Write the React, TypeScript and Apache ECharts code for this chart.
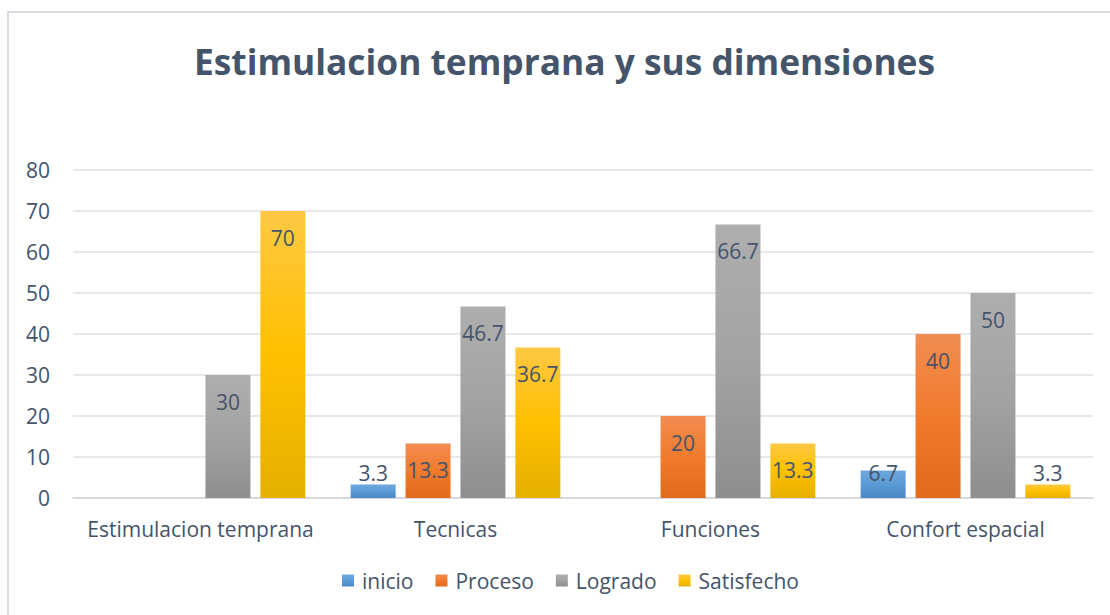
import React, { useEffect, useRef } from 'react';
import * as echarts from 'echarts';

const titleText = 'Estimulacion temprana y sus dimensiones';
const categories = ['Estimulacion temprana', 'Tecnicas', 'Funciones', 'Confort espacial'];
const seriesNames = ['inicio', 'Proceso', 'Logrado', 'Satisfecho'];
const inicio: (number | null)[] = [null, 3.3, null, 6.7];
const proceso: (number | null)[] = [null, 13.3, 20, 40];
const logrado: (number | null)[] = [30, 46.7, 66.7, 50];
const satisfecho: (number | null)[] = [70, 36.7, 13.3, 3.3];
const yMin = 0;
const yMax = 80;
const yStep = 10;

const gradients = [
  ['#6EA7DE', '#5B9BD5', '#4A87C6'],
  ['#F28C52', '#F07B2C', '#E26A1A'],
  ['#AEAEAE', '#A3A3A3', '#8E8E8E'],
  ['#FFC844', '#FFC000', '#E5B000'],
];

const FONT = "'Open Sans', sans-serif";
const TEXT = '#44546A';
const FS = 21;

export default function App() {
  const ref = useRef<HTMLDivElement>(null);
  useEffect(() => {
    if (!ref.current) return;
    const chart = echarts.init(ref.current, undefined, { renderer: 'svg' });
    const all = [inicio, proceso, logrado, satisfecho];
    const toItems = (vals: (number | null)[]) =>
      vals.map((v) =>
        v == null
          ? null
          : v < 13
          ? { value: v, label: { position: 'insideBottom', distance: 15 } }
          : v
      );
    const series = all.map((vals, i) => ({
      name: seriesNames[i],
      type: 'bar',
      barWidth: 45,
      barGap: '22%',
      data: toItems(vals),
      itemStyle: {
        color: new echarts.graphic.LinearGradient(0, 0, 0, 1, [
          { offset: 0, color: gradients[i][0] },
          { offset: 0.5, color: gradients[i][1] },
          { offset: 1, color: gradients[i][2] },
        ]),
      },
      label: {
        show: true,
        position: 'insideTop',
        distance: 16,
        color: TEXT,
        fontSize: FS,
        fontFamily: FONT,
      },
    }));
    chart.setOption({
      animation: false,
      color: gradients.map((g) => g[1]),
      graphic: [
        {
          type: 'rect',
          shape: { x: 8, y: 12, width: 1200, height: 700 },
          style: { fill: 'none', stroke: '#D9DEE4', lineWidth: 2 },
          silent: true,
        },
      ],
      title: {
        text: titleText,
        left: 189,
        top: 38,
        textAlign: 'left',
        textStyle: {
          color: TEXT,
          fontSize: 35.3,
          fontWeight: 'bold',
          fontFamily: FONT,
        },
      },
      legend: {
        bottom: 19,
        left: 337,
        itemWidth: 12,
        itemHeight: 12,
        itemGap: 22,
        icon: 'rect',
        data: seriesNames,
        textStyle: { color: TEXT, fontSize: FS, fontFamily: FONT, padding: [0, 0, 0, 3] },
      },
      grid: { left: 73, right: 17, top: 170, bottom: 117, containLabel: false },
      xAxis: {
        type: 'category',
        data: categories,
        axisTick: { show: false },
        axisLine: { lineStyle: { color: '#D0D5DB', width: 1.5 } },
        axisLabel: { color: TEXT, fontSize: FS, fontFamily: FONT, margin: 20, interval: 0 },
      },
      yAxis: {
        type: 'value',
        min: yMin,
        max: yMax,
        interval: yStep,
        axisLine: { show: false },
        axisTick: { show: false },
        splitLine: { lineStyle: { color: '#DCE1E7', width: 1.5 } },
        axisLabel: { color: TEXT, fontSize: FS, fontFamily: FONT, margin: 23 },
      },
      series,
    });
    return () => chart.dispose();
  }, []);
  return (
    <div
      ref={ref}
      style={{ position: 'fixed', left: 0, top: 0, width: 1110, height: 615, background: '#fff' }}
    />
  );
}
